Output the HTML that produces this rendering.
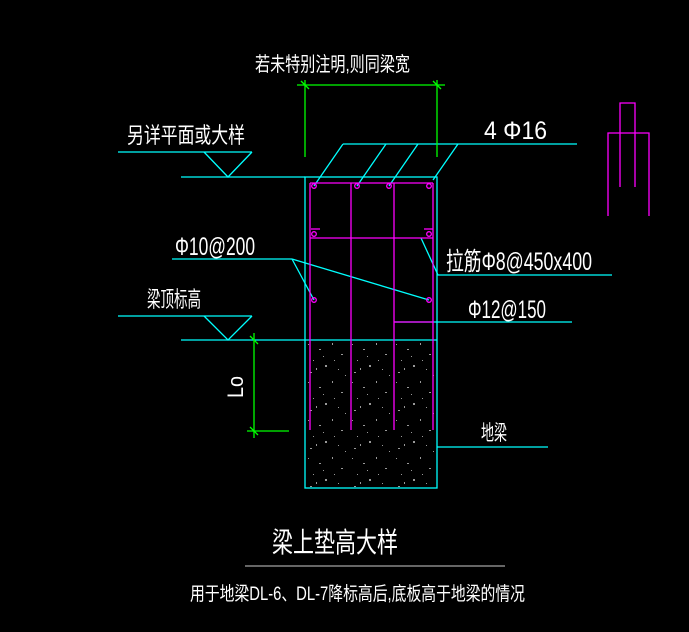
<!DOCTYPE html>
<html><head><meta charset="utf-8"><style>
html,body{margin:0;padding:0;background:#000;}
svg{display:block}
text{fill:#fff;font-family:"Liberation Sans","Noto Sans CJK SC",sans-serif;}
</style></head><body>
<svg width="689" height="632" viewBox="0 0 689 632" xmlns="http://www.w3.org/2000/svg">
<defs>
<pattern id="conc" x="305" y="340" width="44" height="38" patternUnits="userSpaceOnUse">
<g fill="#999">
<rect x="3" y="4" width="1" height="1"/><rect x="14" y="9" width="2" height="1"/><rect x="27" y="3" width="1" height="2"/>
<rect x="36" y="14" width="2" height="1"/><rect x="8" y="20" width="1" height="1"/><rect x="20" y="25" width="2" height="2"/>
<rect x="33" y="29" width="1" height="1"/><rect x="5" y="32" width="2" height="1"/><rect x="40" y="35" width="1" height="1"/>
<rect x="18" y="16" width="1" height="1"/><rect x="29" y="20" width="1" height="1"/><rect x="11" y="28" width="1" height="2"/>
</g></pattern>
</defs>
<rect x="306" y="341" width="130" height="146" fill="url(#conc)"/>
<g stroke="#00ffff" stroke-width="1.3" fill="none">
<rect x="305" y="177" width="132" height="311"/>
<line x1="181" y1="340" x2="437" y2="340"/>
<line x1="181" y1="177" x2="305" y2="177"/>
<polyline points="118,152 252,152"/><polyline points="204,152 228,177 252,152"/>
<polyline points="118,316 252,316"/><polyline points="204,316 228,340 252,316"/>
<line x1="343" y1="144" x2="577" y2="144"/>
<line x1="343" y1="144" x2="314" y2="186"/>
<line x1="386" y1="144" x2="357" y2="186"/>
<line x1="418" y1="144" x2="389" y2="186"/>
<line x1="458" y1="144" x2="433" y2="180"/>
<line x1="172" y1="259" x2="292" y2="259"/>
<line x1="292" y1="259" x2="314" y2="300"/>
<line x1="292" y1="259" x2="429" y2="300"/>
<polyline points="421,238 438,275 612,275"/>
<line x1="394" y1="322" x2="572" y2="322"/>
<line x1="437" y1="447" x2="548" y2="447"/>
</g>
<g stroke="#ff00ff" stroke-width="1.3" fill="none">
<line x1="310" y1="183" x2="433" y2="183"/>
<line x1="310" y1="238" x2="433" y2="238"/>
<line x1="394" y1="322" x2="433" y2="322"/>
<line x1="310" y1="183" x2="310" y2="430"/>
<line x1="351" y1="183" x2="351" y2="430"/>
<line x1="394" y1="183" x2="394" y2="430"/>
<line x1="433" y1="183" x2="433" y2="430"/>
<circle cx="314" cy="186" r="2.3"/><circle cx="357" cy="186" r="2.3"/><circle cx="389" cy="186" r="2.3"/><circle cx="429" cy="186" r="2.3"/>
<circle cx="314" cy="234" r="2.3"/><circle cx="429" cy="234" r="2.3"/>
<line x1="311" y1="229" x2="320" y2="229"/><line x1="424" y1="229" x2="433" y2="229"/>
<circle cx="314" cy="300" r="2.3"/><circle cx="429" cy="300" r="2.3"/>
<polyline points="620,187 620,103 635,103 635,187"/>
<polyline points="608,216 608,133 649,133 649,216"/>
</g>
<g stroke="#00ff00" stroke-width="1.3" fill="none">
<line x1="297" y1="85" x2="445" y2="85"/>
<line x1="305" y1="80" x2="305" y2="157"/>
<line x1="437" y1="80" x2="437" y2="157"/>
<line x1="301" y1="81" x2="309" y2="89"/><line x1="433" y1="81" x2="441" y2="89"/>
<line x1="254" y1="333" x2="254" y2="438"/>
<line x1="247" y1="431" x2="289" y2="431"/>
<line x1="250" y1="336" x2="258" y2="344"/><line x1="250" y1="427" x2="258" y2="435"/>
</g>
<line x1="245" y1="566" x2="505" y2="566" stroke="#ccc" stroke-width="1"/>
<text x="255" y="71" font-size="20" textLength="155" lengthAdjust="spacingAndGlyphs">若未特别注明,则同梁宽</text>
<text x="127" y="143" font-size="22" textLength="118" lengthAdjust="spacingAndGlyphs">另详平面或大样</text>
<text x="484" y="139" font-size="25" textLength="63" lengthAdjust="spacingAndGlyphs">4 Φ16</text>
<text x="175" y="255" font-size="25" textLength="80" lengthAdjust="spacingAndGlyphs">Φ10@200</text>
<text x="446" y="270" font-size="25" textLength="146" lengthAdjust="spacingAndGlyphs">拉筋Φ8@450x400</text>
<text x="147" y="307" font-size="22" textLength="54" lengthAdjust="spacingAndGlyphs">梁顶标高</text>
<text x="468" y="318" font-size="25" textLength="78" lengthAdjust="spacingAndGlyphs">Φ12@150</text>
<text x="0" y="0" font-size="22" transform="translate(243,398) rotate(-90)" textLength="22" lengthAdjust="spacingAndGlyphs">Lo</text>
<text x="481" y="440" font-size="21" textLength="26" lengthAdjust="spacingAndGlyphs">地梁</text>
<text x="272" y="552" font-size="28" textLength="126" lengthAdjust="spacingAndGlyphs">梁上垫高大样</text>
<text x="190" y="600" font-size="19" textLength="335" lengthAdjust="spacingAndGlyphs">用于地梁DL-6、DL-7降标高后,底板高于地梁的情况</text>
</svg>
</body></html>
